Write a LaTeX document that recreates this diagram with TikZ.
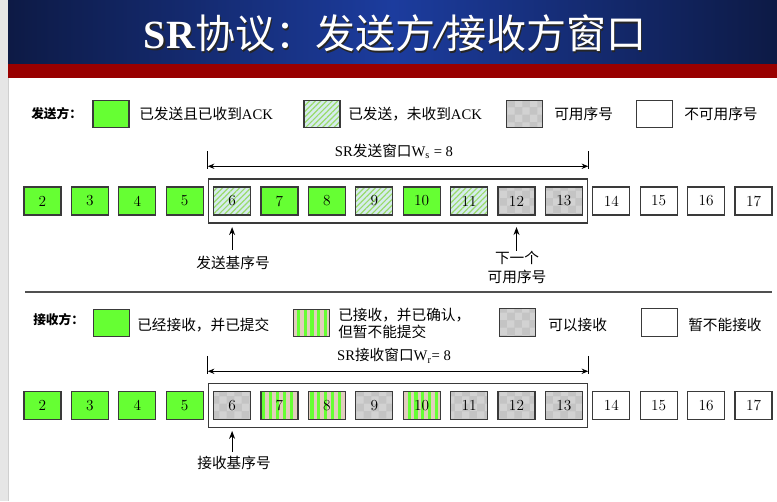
\documentclass[tikz,border=0pt]{standalone}
\usepackage{fontspec}
\newfontfamily\cjk{Noto Sans CJK SC}
\newfontfamily\tms{Liberation Serif}
\usetikzlibrary{patterns,patterns.meta,arrows.meta,fit,calc}
\definecolor{sgreen}{HTML}{66FF33}
\definecolor{hbg}{HTML}{D6ECEE}
\definecolor{hline}{HTML}{9ADB6A}
\definecolor{chkbase}{HTML}{C4C4C4}
\definecolor{chklight}{HTML}{D2D2D2}
\definecolor{beige}{HTML}{E2CDBE}
\definecolor{cellborder}{HTML}{3A3A3A}
\definecolor{navyD}{HTML}{0D1A45}
\definecolor{navyL}{HTML}{1C3C9E}
\definecolor{barred}{HTML}{990000}
\definecolor{stripgray}{HTML}{E6E6E6}
\definecolor{stripedge}{HTML}{CFCFCF}
\definecolor{sepgray}{HTML}{505050}
\begin{document}
\begin{tikzpicture}[x=0.75pt,y=-0.75pt,
  cell/.style={draw=cellborder, line width=0.9pt, minimum width=27.75pt, minimum height=21pt, inner sep=0pt, font=\fontsize{11.5}{13}\selectfont},
  lbox/.style={cell, minimum width=27pt, minimum height=20.5pt},
  cgreen/.style={fill=sgreen},
  chatch/.style={preaction={fill=hbg}, pattern={Lines[angle=45,distance=3pt,line width=0.9pt]}, pattern color=hline},
  cchk/.style={preaction={fill=chkbase}, pattern=checkerboard, pattern color=chklight},
  cstripe/.style={preaction={fill=beige}, pattern={Lines[angle=90,distance=5.2pt,line width=2.3pt]}, pattern color=sgreen},
  cwhite/.style={fill=white},
  win/.style={draw=cellborder, line width=1pt, inner xsep=3.45pt, inner ysep=5.6pt},
  tick/.style={line width=0.9pt, black},
  warrow/.style={{Stealth[length=5pt,width=4pt]}-{Stealth[length=5pt,width=4pt]}, line width=0.7pt},
  barrow/.style={-{Stealth[length=6pt,width=4.5pt]}, line width=0.8pt},
  lab/.style={anchor=west, inner sep=0pt, font=\fontsize{9.5}{11.5}\selectfont\cjk\bfseries},
  ltext/.style={anchor=west, inner sep=0pt, font=\fontsize{11}{13}\selectfont\cjk},
  ctext/.style={inner sep=0pt, font=\fontsize{11}{14.25}\selectfont\cjk, align=center},
  titletext/.style={inner sep=0pt, font=\fontsize{30}{32}\selectfont}
]
\useasboundingbox (0,0) rectangle (777,501);
% page strip and title bar
\fill[stripgray] (0,0) rectangle (8,501);
\draw[stripedge, line width=0.8pt] (8.5,0) -- (8.5,501);
\shade[left color=navyD, right color=navyD, middle color=navyL] (8,0) rectangle (777,63.5);
\fill[barred] (8,63.5) rectangle (777,77.5);
\node[titletext, text=black!85] (tshadow) at (396.5,35) {{\tms\bfseries SR}{\cjk 协议：发送方}{\tms\bfseries\itshape /}{\cjk 接收方窗口}};
\node[titletext, text=white] (title) at (395,33.5) {{\tms\bfseries SR}{\cjk 协议：发送方}{\tms\bfseries\itshape /}{\cjk 接收方窗口}};

% ---------- sender legend ----------
\node[lab] (slab) at (31,114) {发送方：};
\node[lbox, cgreen] (sk1) at (111,114) {};
\node[ltext] (st1) at (139,114) {已发送且已收到{\tms ACK}};
\node[lbox, chatch] (sk2) at (322,114) {};
\node[ltext] (st2) at (348,114) {已发送，未收到{\tms ACK}};
\node[lbox, cchk] (sk3) at (524.5,114) {};
\node[ltext] (st3) at (554,114) {可用序号};
\node[lbox, cwhite] (sk4) at (654.5,114) {};
\node[ltext] (st4) at (684,114) {不可用序号};

% ---------- sender cells ----------
\node[cell, cgreen] (s2) at (42.5,201) {2};
\node[cell, cgreen] (s3) at (89.9,201) {3};
\node[cell, cgreen] (s4) at (137.3,201) {4};
\node[cell, cgreen] (s5) at (184.7,201) {5};
\node[cell, chatch] (s6) at (232.1,201) {6};
\node[cell, cgreen] (s7) at (279.5,201) {7};
\node[cell, cgreen] (s8) at (326.9,201) {8};
\node[cell, chatch] (s9) at (374.3,201) {9};
\node[cell, cgreen] (s10) at (421.7,201) {10};
\node[cell, chatch] (s11) at (469.1,201) {11};
\node[cell, cchk] (s12) at (516.5,201) {12};
\node[cell, cchk] (s13) at (563.9,201) {13};
\node[cell, cwhite] (s14) at (611.3,201) {14};
\node[cell, cwhite] (s15) at (658.7,201) {15};
\node[cell, cwhite] (s16) at (706.1,201) {16};
\node[cell, cwhite] (s17) at (753.5,201) {17};
\node[win, fit=(s6)(s13)] (swin) {};
\coordinate (sal) at ($(swin.north west)+(0,-12)$);
\coordinate (sar) at ($(swin.north east)+(0,-12)$);
\draw[tick] ($(swin.north west)+(0,-27)$) -- ($(swin.north west)+(0,-9.5)$);
\draw[tick] ($(swin.north east)+(0,-27)$) -- ($(swin.north east)+(0,-9.5)$);
\draw[warrow] (sal) -- (sar);
\node[ltext, anchor=center] (swlab) at ($(swin.north)+(-4,-27)$) {{\tms SR}发送窗口{\tms W\textsubscript{s} = 8}};
\node[ctext] (sbase) at (233,263) {发送基序号};
\node[ctext] (snext) at (517,267.5) {下一个\\可用序号};
\draw[barrow, shorten <=4.5pt, shorten >=2.5pt] (sbase.north -| s6) -- (s6 |- swin.south);
\draw[barrow, shorten >=2.5pt] (snext.north -| s12) -- (s12 |- swin.south);

% separator
\draw[sepgray, line width=1.1pt] (25,292) -- (772,292);

% ---------- receiver legend ----------
\node[lab] (rlab) at (33,320) {接收方：};
\node[lbox, cgreen] (rk1) at (111.5,323) {};
\node[ltext] (rt1) at (137,325) {已经接收，并已提交};
\node[lbox, cstripe] (rk2) at (311.5,323) {};
\node[ltext, align=left, font=\fontsize{11}{12.75}\selectfont\cjk] (rt2) at (338,323.5) {已接收，并已确认，\\但暂不能提交};
\node[lbox, cchk] (rk3) at (517.5,322.5) {};
\node[ltext] (rt3) at (548,325) {可以接收};
\node[lbox, cwhite] (rk4) at (659.5,322.5) {};
\node[ltext] (rt4) at (688,325) {暂不能接收};

% ---------- receiver cells ----------
\node[cell, cgreen] (r2) at (42.5,405.5) {2};
\node[cell, cgreen] (r3) at (89.9,405.5) {3};
\node[cell, cgreen] (r4) at (137.3,405.5) {4};
\node[cell, cgreen] (r5) at (184.7,405.5) {5};
\node[cell, cchk] (r6) at (232.1,405.5) {6};
\node[cell, cstripe] (r7) at (279.5,405.5) {7};
\node[cell, cstripe] (r8) at (326.9,405.5) {8};
\node[cell, cchk] (r9) at (374.3,405.5) {9};
\node[cell, cstripe] (r10) at (421.7,405.5) {10};
\node[cell, cchk] (r11) at (469.1,405.5) {11};
\node[cell, cchk] (r12) at (516.5,405.5) {12};
\node[cell, cchk] (r13) at (563.9,405.5) {13};
\node[cell, cwhite] (r14) at (611.3,405.5) {14};
\node[cell, cwhite] (r15) at (658.7,405.5) {15};
\node[cell, cwhite] (r16) at (706.1,405.5) {16};
\node[cell, cwhite] (r17) at (753.5,405.5) {17};
\node[win, fit=(r6)(r13)] (rwin) {};
\coordinate (ral) at ($(rwin.north west)+(0,-11.5)$);
\coordinate (rar) at ($(rwin.north east)+(0,-11.5)$);
\draw[tick] ($(rwin.north west)+(0,-27)$) -- ($(rwin.north west)+(0,-9)$);
\draw[tick] ($(rwin.north east)+(0,-27)$) -- ($(rwin.north east)+(0,-9)$);
\draw[warrow] (ral) -- (rar);
\node[ltext, anchor=center] (rwlab) at ($(rwin.north)+(-4,-27)$) {{\tms SR}接收窗口{\tms W\textsubscript{r}= 8}};
\node[ctext] (rbase) at (234,463) {接收基序号};
\draw[barrow, shorten <=3pt, shorten >=2pt] (rbase.north -| r6) -- (r6 |- rwin.south);
\end{tikzpicture}
\end{document}
